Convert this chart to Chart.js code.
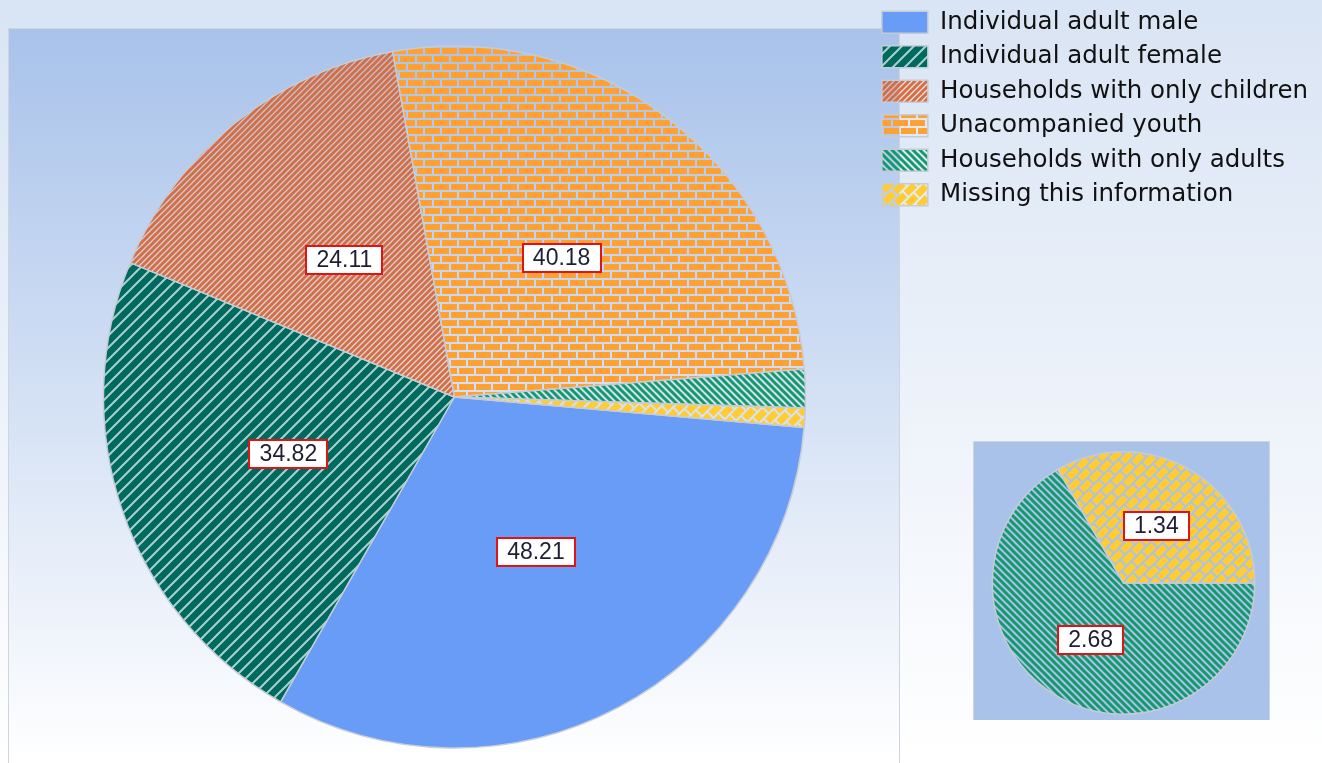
<!DOCTYPE html>
<html>
<head>
<meta charset="utf-8">
<script src="https://cdn.jsdelivr.net/npm/chart.js@4.4.0/dist/chart.umd.min.js"></script>
<style>
  html, body { margin: 0; padding: 0; width: 1322px; height: 763px; overflow: hidden; background: #fff; }
  #main { position: absolute; left: 0; top: 0; }
  #inset { position: absolute; left: 973px; top: 441px; }
</style>
</head>
<body>
<canvas id="main" width="1322" height="794"></canvas>
<canvas id="inset" width="297" height="279"></canvas>
<script>
// data
const categories = [
  'Individual adult male',
  'Individual adult female',
  'Households with only children',
  'Unacompanied youth',
  'Households with only adults',
  'Missing this information'
];
const values = [48.21, 34.82, 24.11, 40.18, 2.68, 1.34];
// the two thin slices are broken out into the small pie
const insetIdx = [4, 5];

// --- hatch fills ---
const makeTile = (w, h, draw) => {
  const c = document.createElement('canvas');
  c.width = w; c.height = h;
  draw(c.getContext('2d'), w, h);
  return c.getContext('2d').createPattern(c, 'repeat');
};

const stripes = (size, bg, fg, lw, dir) => makeTile(size, size, (g, s) => {
  if (bg) { g.fillStyle = bg; g.fillRect(0, 0, s, s); }
  g.strokeStyle = fg; g.lineWidth = lw;
  g.beginPath();
  for (let k = -1; k <= 1; k++) {
    if (dir === '/') { g.moveTo(k * s - 1, s + 1); g.lineTo(k * s + s + 1, -1); }
    else { g.moveTo(k * s - 1, -1); g.lineTo(k * s + s + 1, s + 1); }
  }
  g.stroke();
});

const bricks = (color, bw, bh, gap) => makeTile((bw + gap) * 2, (bh + gap) * 2, (g, w) => {
  g.fillStyle = color;
  const px = bw + gap, half = Math.round(px / 2);
  for (let x = 0; x < w; x += px) g.fillRect(x, 0, bw, bh);
  for (let x = half - px; x < w; x += px) g.fillRect(x, bh + gap, bw, bh);
});

const diagBricks = bricks('#ffcc33', 12, 7, 2);
diagBricks.setTransform(new DOMMatrix().rotate(-45));

const fills = [
  '#699cf7',
  stripes(12, '#00695e', '#a6d2d0', 2, '/'),
  stripes(6, null, '#dc6d3b', 3, '/'),
  bricks('#ffa033', 15, 6, 2),
  stripes(7, null, '#15996b', 3, '\\'),
  diagBricks
];
const edge = '#c6ccd6';

// --- plugins ---
const backdrop = {
  id: 'backdrop',
  beforeDraw(chart, args, o) {
    const { ctx } = chart;
    ctx.save();
    if (o.page) {
      const g = ctx.createLinearGradient(0, 0, 0, 763);
      g.addColorStop(0, '#d9e4f4');
      g.addColorStop(1, '#ffffff');
      ctx.fillStyle = g;
      ctx.fillRect(0, 0, chart.width, chart.height);
    }
    const r = o.box;
    if (o.gradient) {
      const g = ctx.createLinearGradient(0, r.top, 0, r.bottom);
      g.addColorStop(0, '#a8c2ea');
      g.addColorStop(1, '#ffffff');
      ctx.fillStyle = g;
    } else {
      ctx.fillStyle = '#a9c2e9';
    }
    ctx.fillRect(r.left, r.top, r.right - r.left, r.bottom - r.top);
    ctx.strokeStyle = '#cfd5de';
    ctx.lineWidth = 1;
    ctx.strokeRect(r.left + 0.5, r.top + 0.5, r.right - r.left - 1, r.bottom - r.top);
    ctx.restore();
  }
};

const valueBoxes = {
  id: 'valueBoxes',
  afterDatasetsDraw(chart, args, o) {
    const { ctx } = chart;
    const ds = chart.data.datasets[0];
    const skip = o.skip || [];
    ctx.save();
    ctx.font = '23px "Liberation Sans", Arial, sans-serif';
    ctx.textAlign = 'center';
    ctx.textBaseline = 'middle';
    chart.getDatasetMeta(0).data.forEach((arc, i) => {
      if (skip.includes(i)) return;
      const p = arc.tooltipPosition();
      const txt = ds.data[i].toFixed(2);
      const w = Math.round(ctx.measureText(txt).width + 20), h = 28;
      const x = Math.round(p.x - w / 2), y = Math.round(p.y - h / 2);
      ctx.fillStyle = '#ffffff';
      ctx.fillRect(x, y, w, h);
      ctx.strokeStyle = '#e01414';
      ctx.lineWidth = 2;
      ctx.strokeRect(x, y, w, h);
      ctx.fillStyle = '#1d1d33';
      ctx.fillText(txt, p.x, y + h / 2 + 1);
    });
    ctx.restore();
  }
};

// --- main pie ---
new Chart(document.getElementById('main'), {
  type: 'pie',
  data: {
    labels: categories,
    datasets: [{
      data: values,
      backgroundColor: fills,
      borderColor: edge,
      borderWidth: 1.5,
      radius: 351
    }]
  },
  options: {
    responsive: false,
    animation: false,
    rotation: 95,
    layout: { padding: { left: 37, top: 0, right: 4, bottom: 0 } },
    plugins: {
      legend: {
        position: 'right',
        align: 'start',
        labels: {
          boxWidth: 46,
          boxHeight: 22,
          padding: 10,
          color: '#111111',
          font: { family: '"DejaVu Sans", sans-serif', size: 24.5 }
        }
      },
      tooltip: { enabled: false },
      backdrop: { page: true, gradient: true, box: { left: 8, top: 28, right: 900, bottom: 763 } },
      valueBoxes: { skip: insetIdx }
    }
  },
  plugins: [backdrop, valueBoxes]
});

// --- small pie of the thin slices ---
new Chart(document.getElementById('inset'), {
  type: 'pie',
  data: {
    labels: insetIdx.map(i => categories[i]),
    datasets: [{
      data: insetIdx.map(i => values[i]),
      backgroundColor: insetIdx.map(i => fills[i]),
      borderColor: edge,
      borderWidth: 1.5
    }]
  },
  options: {
    responsive: false,
    animation: false,
    rotation: 90,
    layout: { padding: { left: 4, top: 10, right: 0, bottom: 5 } },
    plugins: {
      legend: { display: false },
      tooltip: { enabled: false },
      backdrop: { page: false, gradient: false, box: { left: 0, top: 0, right: 297, bottom: 279 } },
      valueBoxes: { skip: [] }
    }
  },
  plugins: [backdrop, valueBoxes]
});
</script>
</body>
</html>
